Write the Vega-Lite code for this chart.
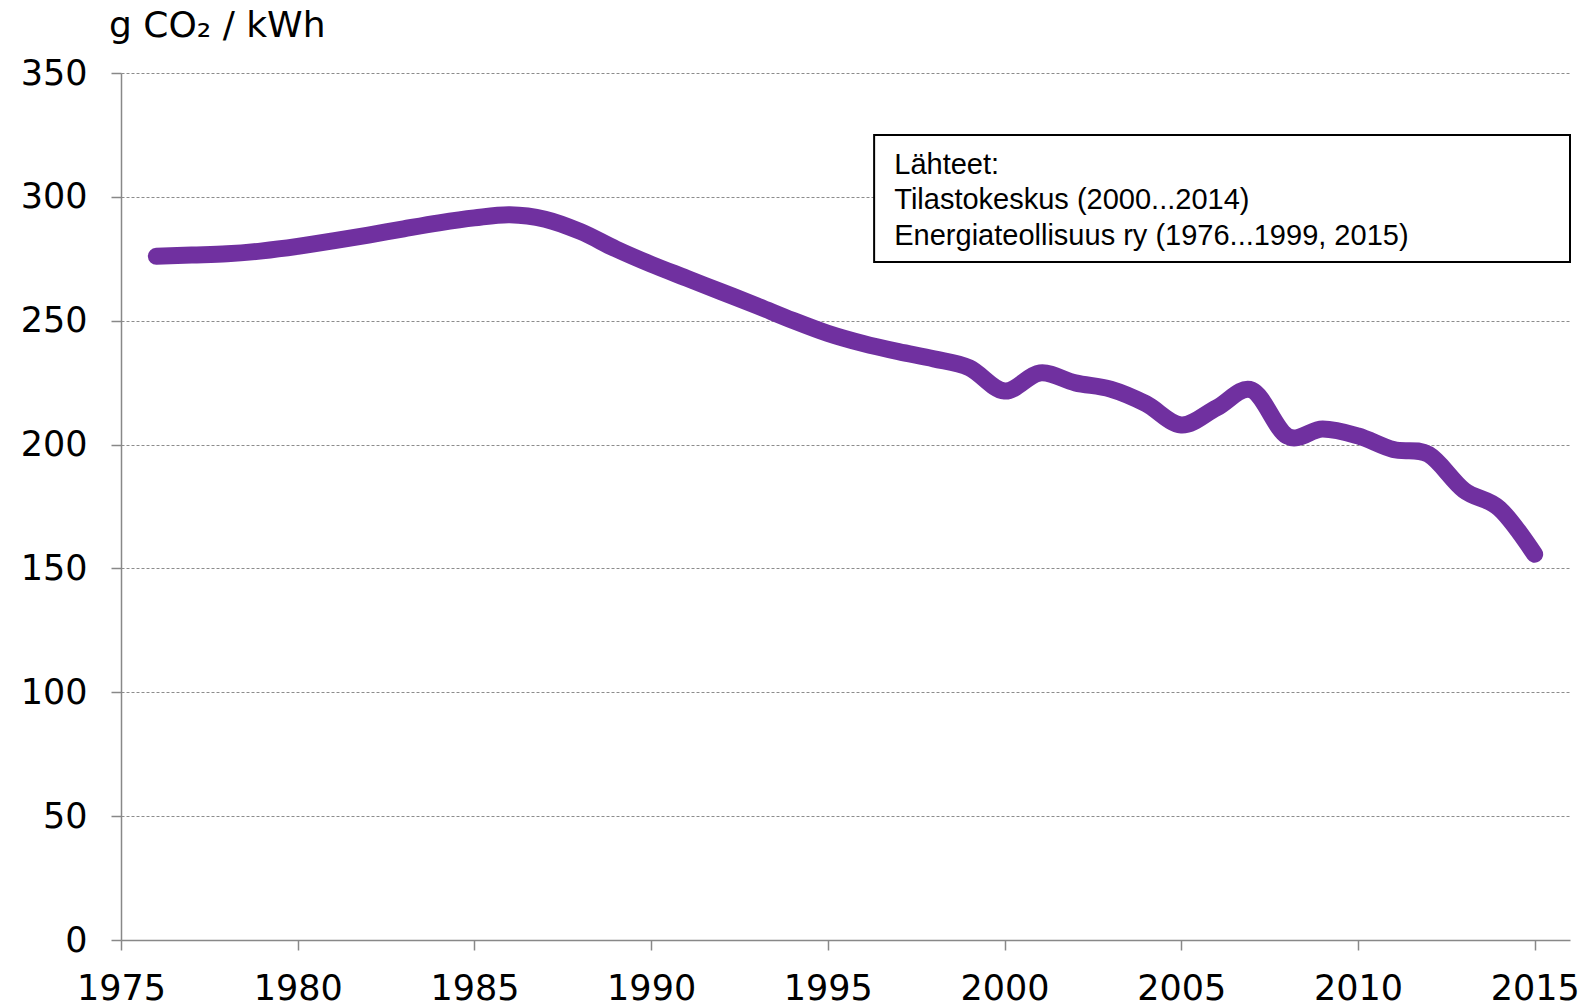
{
  "$schema": "https://vega.github.io/schema/vega-lite/v6.json",
  "width": 1449,
  "height": 867,
  "autosize": {"type": "none"},
  "padding": {"left": 121, "top": 73, "right": 23, "bottom": 67},
  "background": "white",
  "config": {"view": {"stroke": null}, "font": "DejaVu Sans"},
  "title": {
    "text": "g CO₂ / kWh",
    "anchor": "start",
    "frame": "group",
    "fontSize": 36,
    "fontWeight": "normal",
    "font": "DejaVu Sans",
    "color": "#000",
    "dx": -12,
    "dy": 33,
    "offset": 16,
    "baseline": "alphabetic"
  },
  "datasets": {
    "emissions": [
      {"year": 1976, "value": 276},
      {"year": 1977, "value": 276.5},
      {"year": 1978, "value": 277},
      {"year": 1979, "value": 278.2},
      {"year": 1980, "value": 280},
      {"year": 1981, "value": 282.2},
      {"year": 1982, "value": 284.6},
      {"year": 1983, "value": 287.1},
      {"year": 1984, "value": 289.5},
      {"year": 1985, "value": 291.5},
      {"year": 1986, "value": 292.8},
      {"year": 1987, "value": 291},
      {"year": 1988, "value": 286},
      {"year": 1989, "value": 279},
      {"year": 1990, "value": 272.8},
      {"year": 1991, "value": 267.2},
      {"year": 1992, "value": 261.6},
      {"year": 1993, "value": 256},
      {"year": 1994, "value": 250.2},
      {"year": 1995, "value": 244.9},
      {"year": 1996, "value": 240.8},
      {"year": 1997, "value": 237.5},
      {"year": 1998, "value": 234.6},
      {"year": 1999, "value": 231},
      {"year": 2000, "value": 221.6},
      {"year": 2001, "value": 228.9},
      {"year": 2002, "value": 224.9},
      {"year": 2003, "value": 222.4},
      {"year": 2004, "value": 216.5},
      {"year": 2005, "value": 207.9},
      {"year": 2006, "value": 214.8},
      {"year": 2007, "value": 222},
      {"year": 2008, "value": 203.4},
      {"year": 2009, "value": 206.3},
      {"year": 2010, "value": 203.5},
      {"year": 2011, "value": 198},
      {"year": 2012, "value": 196},
      {"year": 2013, "value": 181.6},
      {"year": 2014, "value": 174.2},
      {"year": 2015, "value": 155.7}
    ],
    "sources": [
      {"text": "Lähteet:\nTilastokeskus (2000...2014)\nEnergiateollisuus ry (1976...1999, 2015)"}
    ]
  },
  "layer": [
    {
      "data": {"name": "emissions"},
      "mark": {"type": "line", "color": "#7030A0", "strokeWidth": 17, "strokeCap": "round", "strokeJoin": "round", "interpolate": "cardinal"},
      "encoding": {
        "x": {
          "field": "year",
          "type": "quantitative",
          "scale": {"domain": [1975, 2016], "nice": false, "zero": false},
          "axis": {
            "title": null,
            "values": [1975, 1980, 1985, 1990, 1995, 2000, 2005, 2010, 2015],
            "format": "d",
            "grid": false,
            "domainColor": "#888888",
            "domainWidth": 1.5,
            "tickColor": "#888888",
            "tickWidth": 1.5,
            "tickSize": 10,
            "labelFontSize": 35,
            "labelFont": "DejaVu Sans",
            "labelColor": "#000000",
            "labelPadding": 21,
            "labelFlush": false,
            "labelOverlap": false
          }
        },
        "y": {
          "field": "value",
          "type": "quantitative",
          "scale": {"domain": [0, 350], "nice": false, "zero": true},
          "axis": {
            "title": null,
            "values": [0, 50, 100, 150, 200, 250, 300, 350],
            "grid": true,
            "gridColor": "#8c8c8c",
            "gridDash": [3, 2],
            "gridWidth": 1,
            "domainColor": "#888888",
            "domainWidth": 1.5,
            "tickColor": "#888888",
            "tickWidth": 1.5,
            "tickSize": 10,
            "labelFontSize": 35,
            "labelFont": "DejaVu Sans",
            "labelColor": "#000000",
            "labelPadding": 24,
            "labelOverlap": false
          }
        }
      }
    },
    {
      "data": {"name": "sources"},
      "mark": {"type": "rect", "fill": "white", "stroke": "#000000", "strokeWidth": 2},
      "encoding": {
        "x": {"datum": 1996.31, "type": "quantitative"},
        "x2": {"datum": 2016},
        "y": {"datum": 325, "type": "quantitative"},
        "y2": {"datum": 273.7}
      }
    },
    {
      "data": {"name": "sources"},
      "mark": {"type": "text", "align": "left", "baseline": "alphabetic", "font": "Liberation Sans", "fontSize": 29, "lineHeight": 35.5, "lineBreak": "\n", "color": "#000000"},
      "encoding": {
        "x": {"datum": 1996.88, "type": "quantitative"},
        "y": {"datum": 309.4, "type": "quantitative"},
        "text": {"field": "text"}
      }
    }
  ]
}
